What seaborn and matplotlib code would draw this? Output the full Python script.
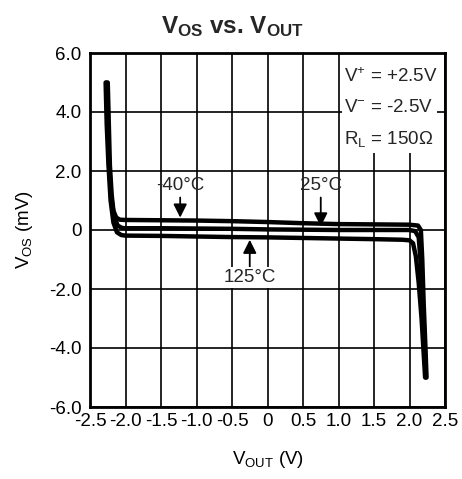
import matplotlib
matplotlib.use("Agg")
import matplotlib.pyplot as plt
import seaborn as sns
import pandas as pd

# Offset voltage traces versus output voltage, one per temperature
x_m40 = [-2.25, -2.235, -2.22, -2.195, -2.17, -2.13, -2.08, -2.0, -1.5, -1.0, -0.5, 0.0, 0.5, 1.0, 1.5, 2.0, 2.12, 2.16, 2.18, 2.20, 2.225, 2.24]
y_m40 = [5.0, 3.6, 2.2, 1.2, 0.65, 0.42, 0.35, 0.34, 0.33, 0.32, 0.30, 0.27, 0.23, 0.20, 0.19, 0.18, 0.15, 0.0, -1.0, -2.5, -4.0, -5.0]

x_25 = [-2.265, -2.25, -2.23, -2.20, -2.16, -2.11, -2.05, -2.0, -1.5, -1.0, -0.5, 0.0, 0.5, 1.0, 1.5, 2.0, 2.08, 2.13, 2.16, 2.19, 2.215, 2.23]
y_25 = [5.0, 3.6, 2.2, 1.1, 0.45, 0.15, 0.07, 0.06, 0.06, 0.05, 0.04, 0.02, 0.01, 0.0, 0.0, 0.0, -0.04, -0.25, -1.2, -2.6, -4.0, -5.0]

x_125 = [-2.28, -2.265, -2.24, -2.21, -2.17, -2.12, -2.06, -2.0, -1.5, -1.0, -0.5, 0.0, 0.5, 1.0, 1.5, 1.9, 2.0, 2.05, 2.09, 2.13, 2.17, 2.20, 2.22]
y_125 = [5.0, 3.6, 2.2, 1.0, 0.25, -0.08, -0.17, -0.19, -0.20, -0.22, -0.24, -0.25, -0.27, -0.29, -0.31, -0.33, -0.35, -0.45, -0.9, -1.8, -3.0, -4.2, -5.0]

x_ticks = [-2.5, -2.0, -1.5, -1.0, -0.5, 0.0, 0.5, 1.0, 1.5, 2.0, 2.5]
x_tick_labels = ["-2.5", "-2.0", "-1.5", "-1.0", "-0.5", "0", "0.5", "1.0", "1.5", "2.0", "2.5"]
y_ticks = [6.0, 4.0, 2.0, 0.0, -2.0, -4.0, -6.0]
y_tick_labels = ["6.0", "4.0", "2.0", "0", "-2.0", "-4.0", "-6.0"]

conditions = ["V$^{+}$ = +2.5V", "V$^{-}$ = -2.5V", "R$_{\\mathrm{L}}$ = 150Ω"]

frames = []
for name, xs, ys in [("-40°C", x_m40, y_m40), ("25°C", x_25, y_25), ("125°C", x_125, y_125)]:
    frames.append(pd.DataFrame({"vout": xs, "vos": ys, "temp": name, "order": range(len(xs))}))
df = pd.concat(frames, ignore_index=True)

sns.set_theme(style="white")
plt.rcParams["font.family"] = ["Liberation Sans", "DejaVu Sans"]
plt.rcParams["mathtext.fontset"] = "custom"
plt.rcParams["mathtext.rm"] = "Liberation Sans"
plt.rcParams["mathtext.it"] = "Liberation Sans:italic"
plt.rcParams["mathtext.bf"] = "Liberation Sans:bold"

FS = 13.5

fig = plt.figure(figsize=(4.62, 4.79), dpi=100)
ax = fig.add_axes([90 / 462, 1 - 407 / 479, 355 / 462, 354 / 479])

sns.lineplot(data=df, x="vout", y="vos", units="temp", estimator=None, sort=False,
             color="black", linewidth=3.2, ax=ax, legend=False, zorder=3)

ax.set_xlim(-2.5, 2.5)
ax.set_ylim(-6.0, 6.0)
ax.set_xticks(x_ticks)
ax.set_xticklabels(x_tick_labels)
ax.set_yticks(y_ticks)
ax.set_yticklabels(y_tick_labels)
ax.tick_params(axis="both", length=0, labelsize=FS, colors="black")
ax.tick_params(axis="x", pad=4)
ax.tick_params(axis="y", pad=6)
ax.grid(True, color="black", linewidth=1.2)
ax.set_axisbelow(True)
for sp in ax.spines.values():
    sp.set_color("black")
    sp.set_linewidth(2.0)

ax.set_xlabel("V$_{\\mathrm{OUT}}$ (V)", fontsize=FS, color="black", labelpad=14)
ax.set_ylabel("V$_{\\mathrm{OS}}$ (mV)", fontsize=FS, color="black", labelpad=10)
fig.text(232 / 462, 1 - 27 / 479,
         "V$_{\\mathbf{OS}}$ vs. V$_{\\mathbf{OUT}}$",
         fontsize=17.5, fontweight="bold", ha="center", va="center")

# Supply and load conditions, on a white panel over the grid
ax.add_patch(plt.Rectangle((1.05, 2.6), 1.34, 3.38, facecolor="white", edgecolor="none", zorder=2.5))
for i, t in enumerate(conditions):
    ax.text(1.08, 5.2 - i * 1.05, t, fontsize=FS, ha="left", va="center", zorder=4)

# Temperature call-outs
arrow = dict(arrowstyle="-|>,head_width=0.3,head_length=0.6", color="black", lw=1.3, shrinkA=0, shrinkB=0)
ax.annotate("-40°C", xy=(-1.23, 0.42), xytext=(-1.23, 1.5), fontsize=FS, ha="center", va="center",
            arrowprops=arrow, zorder=5)
ax.annotate("25°C", xy=(0.75, 0.12), xytext=(0.75, 1.5), fontsize=FS, ha="center", va="center",
            arrowprops=arrow, zorder=5)
ax.annotate("125°C", xy=(-0.25, -0.33), xytext=(-0.25, -1.6), fontsize=FS, ha="center", va="center",
            arrowprops=arrow, zorder=5,
            bbox=dict(boxstyle="square,pad=0.1", facecolor="white", edgecolor="none"))

fig.savefig("out.png", dpi=100, facecolor="white")
